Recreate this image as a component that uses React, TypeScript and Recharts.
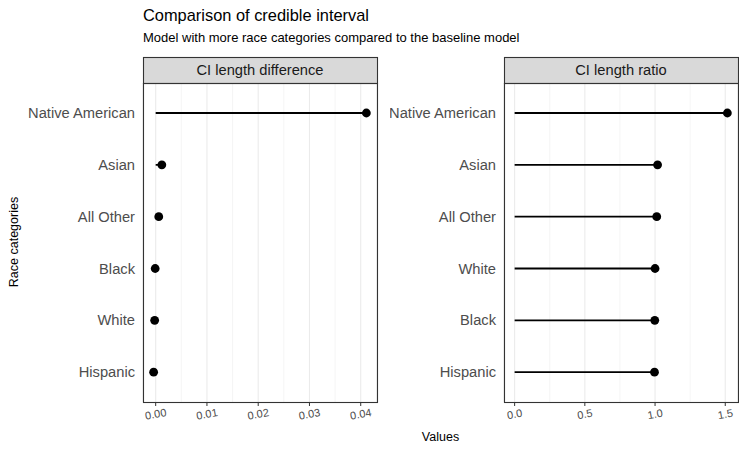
import { ComposedChart, Bar, XAxis, YAxis, CartesianGrid } from "recharts"

const diffCategories = ["Native American", "Asian", "All Other", "Black", "White", "Hispanic"]
const diffValues = [0.0411, 0.0012, 0.0006, -0.0001, -0.0002, -0.0004]
const diffTicks = [0, 0.01, 0.02, 0.03, 0.04]
const diffMinorTicks = [0.005, 0.015, 0.025, 0.035]

const ratioCategories = ["Native American", "Asian", "All Other", "White", "Black", "Hispanic"]
const ratioValues = [1.515, 1.018, 1.012, 1.0, 0.998, 0.996]
const ratioTicks = [0, 0.5, 1, 1.5]
const ratioMinorTicks = [0.25, 0.75, 1.25]

const FONT = "'Liberation Sans', Arial, Helvetica, sans-serif"
const PANEL_TOP = 83
const PANEL_BOTTOM = 402

// ggplot-style 5% expansion around the data (segments start at 0)
const expand = (vals: number[]): [number, number] => {
  const lo = Math.min(0, ...vals)
  const hi = Math.max(0, ...vals)
  const pad = (hi - lo) * 0.05
  return [lo - pad, hi + pad]
}

const Lollipop = (props: any) => {
  const { x, y, width, height, payload } = props
  if (x == null || y == null) return null
  const cy = y + height / 2
  const a = x
  const b = x + (width || 0)
  const v = payload.value
  const end = v >= 0 ? Math.max(a, b) : Math.min(a, b)
  const start = v >= 0 ? Math.min(a, b) : Math.max(a, b)
  return (
    <g>
      <line x1={start} x2={end} y1={cy} y2={cy} stroke="#000" strokeWidth={1.8} />
      <circle cx={end} cy={cy} r={4.4} fill="#000" />
    </g>
  )
}

const makeTick = (digits: number) => (props: any) => {
  const { x, y, payload } = props
  return (
    <g transform={`translate(${x},${y + 6})`}>
      <text
        transform="rotate(-10)"
        textAnchor="middle"
        dy="0.35em"
        fill="#4D4D4D"
        fontSize={11}
        fontFamily={FONT}
      >
        {Number(payload.value).toFixed(digits)}
      </text>
    </g>
  )
}

interface PanelProps {
  categories: string[]
  values: number[]
  ticks: number[]
  minorTicks: number[]
  digits: number
  left: number
  width: number
  axisWidth: number
  rightMargin: number
}

function Panel({ categories, values, ticks, minorTicks, digits, left, width, axisWidth, rightMargin }: PanelProps) {
  const data = categories.map((c, i) => ({ category: c, value: values[i] }))
  const domain = expand(values)
  return (
    <div style={{ position: "absolute", left, top: 0 }}>
      <ComposedChart
        width={width}
        height={451}
        data={data}
        layout="vertical"
        margin={{ top: PANEL_TOP, right: rightMargin, bottom: 451 - PANEL_BOTTOM - 30, left: 0 }}
      >
        <CartesianGrid horizontal={false} vertical verticalValues={minorTicks} stroke="#F2F2F2" strokeWidth={0.8} />
        <CartesianGrid horizontal={false} vertical stroke="#EBEBEB" strokeWidth={1.1} />
        <XAxis
          type="number"
          dataKey="value"
          domain={domain}
          allowDataOverflow
          ticks={ticks}
          height={30}
          axisLine={false}
          tickLine={{ stroke: "#333333" }}
          tickSize={4}
          tickMargin={2}
          tick={makeTick(digits)}
          interval={0}
        />
        <YAxis
          type="category"
          dataKey="category"
          width={axisWidth}
          axisLine={false}
          tickLine={false}
          tickSize={0}
          tickMargin={8}
          padding={{ top: 4, bottom: 4 }}
          tick={{ fill: "#4D4D4D", fontSize: 14.7, fontFamily: FONT }}
          interval={0}
        />
        <Bar dataKey="value" shape={Lollipop} barSize={10} isAnimationActive={false} />
      </ComposedChart>
    </div>
  )
}

export default function App() {
  const leftPanel = { x: 143, w: 234 }
  const rightPanel = { x: 504, w: 234 }
  const stripTop = 57
  return (
    <div
      style={{
        position: "relative",
        width: 747,
        height: 451,
        margin: "-8px 0 0 -8px",
        fontFamily: FONT,
        background: "#fff",
      }}
    >
      <Panel
        categories={diffCategories}
        values={diffValues}
        ticks={diffTicks}
        minorTicks={diffMinorTicks}
        digits={2}
        left={0}
        width={390}
        axisWidth={143}
        rightMargin={13}
      />
      <Panel
        categories={ratioCategories}
        values={ratioValues}
        ticks={ratioTicks}
        minorTicks={ratioMinorTicks}
        digits={1}
        left={390}
        width={357}
        axisWidth={114}
        rightMargin={9}
      />
      <svg
        width={747}
        height={451}
        style={{ position: "absolute", left: 0, top: 0, pointerEvents: "none" }}
        fontFamily={FONT}
      >
        <text x={143} y={21} fontSize={16.4} fill="#000" textLength={226} lengthAdjust="spacingAndGlyphs">
          Comparison of credible interval
        </text>
        <text x={143} y={42} fontSize={13} fill="#000">Model with more race categories compared to the baseline model</text>
        {[
          { p: leftPanel, label: "CI length difference" },
          { p: rightPanel, label: "CI length ratio" },
        ].map(({ p, label }) => (
          <g key={label}>
            <rect x={p.x + 0.5} y={stripTop + 0.5} width={p.w} height={PANEL_TOP - stripTop} fill="#D9D9D9" stroke="#333333" strokeWidth={1.1} />
            <text x={p.x + p.w / 2} y={stripTop + 18} textAnchor="middle" fontSize={14.7} fill="#1A1A1A">{label}</text>
            <rect x={p.x + 0.5} y={PANEL_TOP + 0.5} width={p.w} height={PANEL_BOTTOM - PANEL_TOP} fill="none" stroke="#333333" strokeWidth={1.1} />
          </g>
        ))}
        <text x={440.5} y={441} textAnchor="middle" fontSize={12.5} fill="#000">Values</text>
        <text transform="translate(18,242) rotate(-90)" textAnchor="middle" fontSize={12.5} fill="#000">Race categories</text>
      </svg>
    </div>
  )
}
